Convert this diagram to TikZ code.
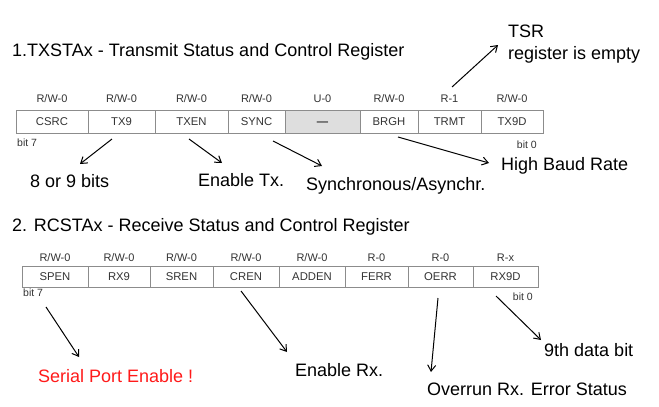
\documentclass[tikz,border=0pt]{standalone}
\usepackage{fontspec}
\setmainfont{Liberation Sans}
\usetikzlibrary{arrows.meta}
\definecolor{regline}{HTML}{8C8C8C}
\definecolor{regtext}{HTML}{333333}
\definecolor{regfill}{HTML}{DEDEDE}
\definecolor{redtxt}{HTML}{FF1A1A}
\begin{document}
\begin{tikzpicture}[x=1pt,y=-1pt,
  cell/.style={draw=regline, line width=0.9pt, inner sep=0pt, font=\fontsize{11.3}{12}\selectfont, text=regtext, text height=8pt, text depth=0pt},
  hdr/.style={inner sep=0pt, font=\fontsize{11}{12}\selectfont, text=regtext, text height=8pt, text depth=0pt},
  bitlbl/.style={inner sep=0pt, font=\fontsize{10.5}{12}\selectfont, text=regtext, text height=7.5pt, text depth=0pt},
  note/.style={inner sep=0pt, anchor=west, font=\fontsize{18}{20}\selectfont, text height=13pt, text depth=0pt},
  arr/.style={line width=1pt, -{Straight Barb[length=6pt,width=8pt]}}
]
\fill[white] (0,0) rectangle (659,407);
\path[use as bounding box] (0,0) rectangle (659,407);

% titles
\node[note] (title1) at (12,50) {1.TXSTAx - Transmit Status and Control Register};
\node[note] (title2) at (12,225) {2. RCSTAx - Receive Status and Control Register};

% register 1
\node[cell, minimum width=72pt, minimum height=23pt] (t7) at (52,121.5) {CSRC};
\node[cell, minimum width=67pt, minimum height=23pt] (t6) at (121.5,121.5) {TX9};
\node[cell, minimum width=73pt, minimum height=23pt] (t5) at (191.5,121.5) {TXEN};
\node[cell, minimum width=57pt, minimum height=23pt] (t4) at (256.5,121.5) {SYNC};
\node[cell, fill=regfill, minimum width=75pt, minimum height=23pt] (t3) at (322.5,121.5) {\bfseries —};
\node[cell, minimum width=58pt, minimum height=23pt] (t2) at (389,121.5) {BRGH};
\node[cell, minimum width=63pt, minimum height=23pt] (t1) at (449.5,121.5) {TRMT};
\node[cell, minimum width=62pt, minimum height=23pt] (t0) at (512,121.5) {TX9D};

\node[hdr] (th7) at (52,98) {R/W-0};
\node[hdr] (th6) at (121.5,98) {R/W-0};
\node[hdr] (th5) at (191.5,98) {R/W-0};
\node[hdr] (th4) at (256.5,98) {R/W-0};
\node[hdr] (th3) at (322.5,98) {U-0};
\node[hdr] (th2) at (389,98) {R/W-0};
\node[hdr] (th1) at (449.5,98) {R-1};
\node[hdr] (th0) at (512,98) {R/W-0};

\node[bitlbl, anchor=west] (tb7) at (17,143) {bit 7};
\node[bitlbl, anchor=east] (tb0) at (537,145) {bit 0};

% register 2
\node[cell, minimum width=66pt, minimum height=21pt] (r7) at (55,276.5) {SPEN};
\node[cell, minimum width=62pt, minimum height=21pt] (r6) at (119,276.5) {RX9};
\node[cell, minimum width=63pt, minimum height=21pt] (r5) at (181.5,276.5) {SREN};
\node[cell, minimum width=66pt, minimum height=21pt] (r4) at (246,276.5) {CREN};
\node[cell, minimum width=66pt, minimum height=21pt] (r3) at (312,276.5) {ADDEN};
\node[cell, minimum width=63pt, minimum height=21pt] (r2) at (376.5,276.5) {FERR};
\node[cell, minimum width=65pt, minimum height=21pt] (r1) at (440.5,276.5) {OERR};
\node[cell, minimum width=65pt, minimum height=21pt] (r0) at (505.5,276.5) {RX9D};

\node[hdr] (rh7) at (55,257) {R/W-0};
\node[hdr] (rh6) at (119,257) {R/W-0};
\node[hdr] (rh5) at (181.5,257) {R/W-0};
\node[hdr] (rh4) at (246,257) {R/W-0};
\node[hdr] (rh3) at (312,257) {R/W-0};
\node[hdr] (rh2) at (376.5,257) {R-0};
\node[hdr] (rh1) at (440.5,257) {R-0};
\node[hdr] (rh0) at (505.5,257) {R-x};

\node[bitlbl, anchor=west] (rb7) at (23,293) {bit 7};
\node[bitlbl, anchor=east] (rb0) at (533,297) {bit 0};

% annotations
\node[note] (tsr) at (508,31) {TSR};
\node[note] (tsre) at (508,53) {register is empty};
\node[note] (n89) at (30,181) {8 or 9 bits};
\node[note] (entx) at (198,180) {Enable Tx.};
\node[note] (sync) at (306,184) {Synchronous/Asynchr.};
\node[note] (hbr) at (501,164) {High Baud Rate};
\node[note, text=redtxt] (spe) at (38,376) {Serial Port Enable !};
\node[note] (enrx) at (295,370) {Enable Rx.};
\node[note] (ovr) at (427,389) {Overrun Rx. Error Status};
\node[note] (d9) at (544,350) {9th data bit};

% connector ends
\coordinate (aTs) at (452,87);   \coordinate (aTe) at (498,45);
\coordinate (a6s) at (112,139);  \coordinate (a6e) at (80,164);
\coordinate (a5s) at (189,139);  \coordinate (a5e) at (222,163);
\coordinate (a4s) at (273,141);  \coordinate (a4e) at (322,166);
\coordinate (a2s) at (398,137);  \coordinate (a2e) at (489,163);
\coordinate (b7s) at (46,307);   \coordinate (b7e) at (79,357);
\coordinate (b4s) at (241,291);  \coordinate (b4e) at (287,352);
\coordinate (b1s) at (438,298);  \coordinate (b1e) at (431,372);
\coordinate (b0s) at (496,296);  \coordinate (b0e) at (541,340);

\draw[arr] (aTs) -- (aTe);
\draw[arr] (a6s) -- (a6e);
\draw[arr] (a5s) -- (a5e);
\draw[arr] (a4s) -- (a4e);
\draw[arr] (a2s) -- (a2e);
\draw[arr] (b7s) -- (b7e);
\draw[arr] (b4s) -- (b4e);
\draw[arr] (b1s) -- (b1e);
\draw[arr] (b0s) -- (b0e);
\end{tikzpicture}
\end{document}
